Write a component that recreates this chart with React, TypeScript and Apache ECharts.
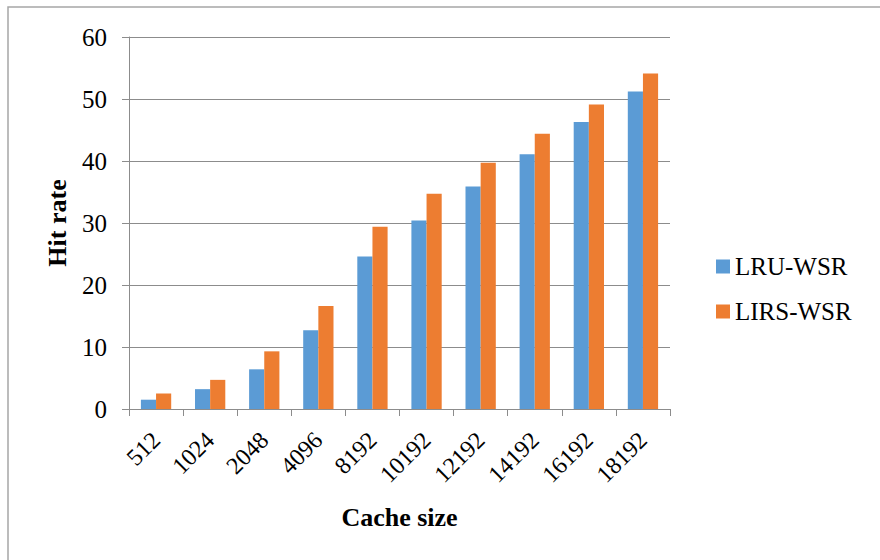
import React, { useEffect, useRef } from "react";
import * as echarts from "echarts";

const cacheSizes = ["512", "1024", "2048", "4096", "8192", "10192", "12192", "14192", "16192", "18192"];
const lruWsr = [1.5, 3.2, 6.4, 12.7, 24.6, 30.4, 35.9, 41.1, 46.3, 51.2];
const lirsWsr = [2.5, 4.7, 9.3, 16.6, 29.4, 34.7, 39.7, 44.4, 49.1, 54.1];
const seriesNames = ["LRU-WSR", "LIRS-WSR"];
const yTicks = { min: 0, max: 60, interval: 10 };

const serif = "'Liberation Serif', 'Times New Roman', serif";
const gray = "#8c8c8c";

export default function App() {
  const ref = useRef<HTMLDivElement>(null);

  useEffect(() => {
    if (!ref.current) return;
    const chart = echarts.init(ref.current, undefined, { renderer: "svg" });
    chart.setOption({
      animation: false,
      backgroundColor: "#ffffff",
      graphic: [
        {
          type: "rect",
          shape: { x: 8, y: 7, width: 1000, height: 1000 },
          style: { fill: "none", stroke: "#a6a6a6", lineWidth: 1.5 },
          silent: true,
        },
      ],
      grid: { left: 129, right: 210, top: 37, bottom: 151 },
      legend: {
        orient: "vertical",
        left: 711,
        top: 249,
        itemWidth: 14,
        itemHeight: 14,
        itemGap: 20,
        icon: "rect",
        textStyle: { fontFamily: serif, fontSize: 25, color: "#000" },
        data: seriesNames,
      },
      xAxis: {
        type: "category",
        data: cacheSizes,
        name: "Cache size",
        nameLocation: "middle",
        nameGap: 95,
        nameTextStyle: { fontFamily: serif, fontSize: 26, fontWeight: "bold", color: "#000" },
        axisLine: { lineStyle: { color: gray, width: 1 } },
        axisTick: { show: true, length: 7, lineStyle: { color: gray } },
        axisLabel: { rotate: 45, margin: 27, fontFamily: serif, fontSize: 24, color: "#000" },
      },
      yAxis: {
        type: "value",
        min: yTicks.min,
        max: yTicks.max,
        interval: yTicks.interval,
        name: "Hit rate",
        nameLocation: "middle",
        nameGap: 59,
        nameRotate: 90,
        nameTextStyle: { fontFamily: serif, fontSize: 26, fontWeight: "bold", color: "#000" },
        axisLine: { show: true, lineStyle: { color: gray, width: 1 } },
        axisTick: { show: true, length: 7, lineStyle: { color: gray } },
        axisLabel: { margin: 22, fontFamily: serif, fontSize: 25, color: "#000" },
        splitLine: { show: true, lineStyle: { color: gray, width: 1 } },
      },
      series: [
        {
          name: seriesNames[0],
          type: "bar",
          data: lruWsr,
          itemStyle: { color: "#5B9BD5" },
          barGap: "0%",
          barCategoryGap: "44%",
        },
        {
          name: seriesNames[1],
          type: "bar",
          data: lirsWsr,
          itemStyle: { color: "#ED7D31" },
          barGap: "0%",
          barCategoryGap: "44%",
        },
      ],
    });
    return () => chart.dispose();
  }, []);

  return (
    <div
      ref={ref}
      style={{ position: "absolute", left: 0, top: 0, width: 880, height: 560 }}
    />
  );
}
